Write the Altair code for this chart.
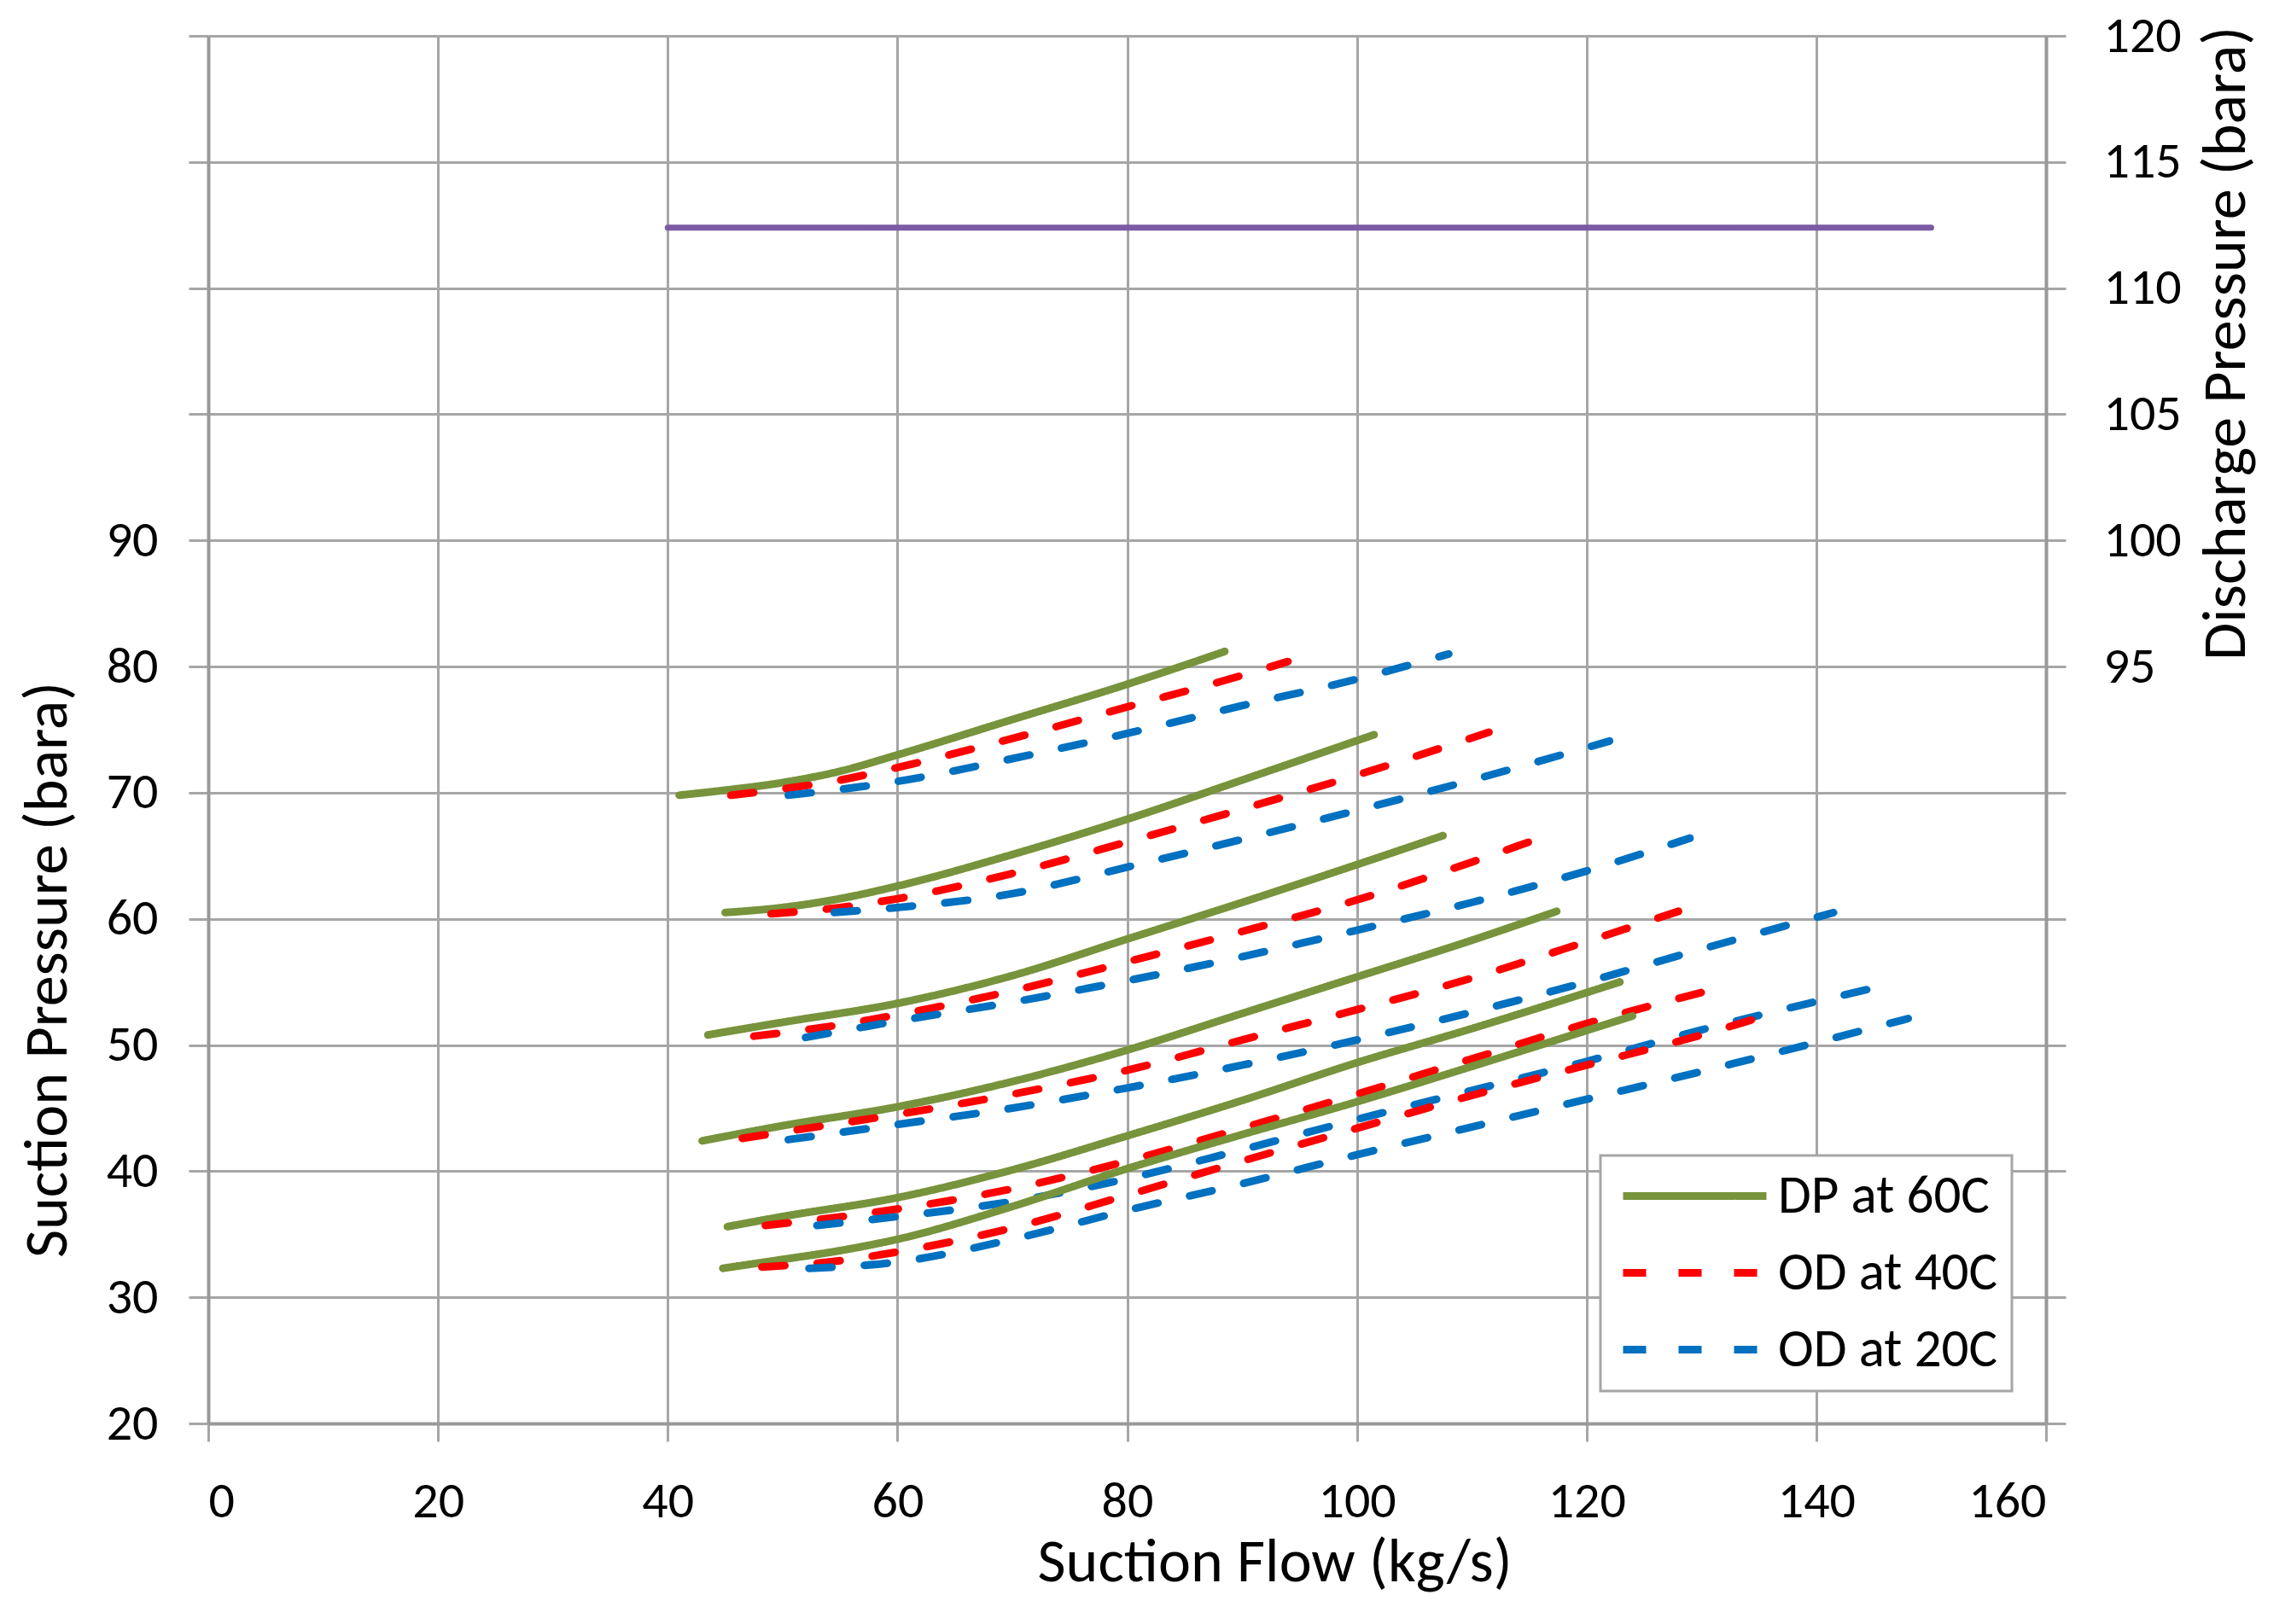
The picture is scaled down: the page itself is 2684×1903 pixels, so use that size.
import altair as alt
import pandas as pd

# ---- data ----
series_names = ["DP at 60C", "OD at 40C", "OD at 20C"]
series_colors = ["#77933C", "#FF0000", "#0070C0"]

dp60_1_x = [41, 45, 50, 55, 60, 70, 80, 88.5]
dp60_1_y = [69.8, 70.2, 70.8, 71.7, 73.0, 75.8, 78.6, 81.2]
od40_1_x = [45.5, 50, 55, 60, 70, 80, 90, 94]
od40_1_y = [69.8, 70.3, 71.0, 72.0, 74.3, 76.8, 79.3, 80.4]
od20_1_x = [50.5, 60, 70, 80, 90, 100, 108]
od20_1_y = [69.8, 70.9, 72.7, 74.7, 76.9, 79.0, 81.0]

dp60_2_x = [45, 50, 55, 60, 70, 80, 90, 101.5]
dp60_2_y = [60.5, 60.9, 61.6, 62.6, 65.1, 67.9, 71.0, 74.6]
od40_2_x = [49, 55, 60, 70, 80, 90, 100, 111.5]
od40_2_y = [60.4, 60.9, 61.6, 63.6, 66.1, 68.7, 71.4, 74.8]
od20_2_x = [54.5, 60, 70, 80, 90, 100, 110, 122]
od20_2_y = [60.5, 60.9, 62.0, 64.1, 66.3, 68.6, 71.0, 74.1]

dp60_3_x = [43.5, 50, 60, 70, 80, 90, 100, 107.5]
dp60_3_y = [50.8, 51.8, 53.3, 55.5, 58.4, 61.3, 64.3, 66.6]
od40_3_x = [47.5, 55, 60, 70, 80, 90, 100, 110, 115]
od40_3_y = [50.7, 51.6, 52.4, 54.3, 56.6, 59.0, 61.5, 64.5, 66.1]
od20_3_x = [52, 60, 70, 80, 90, 100, 110, 120, 129]
od20_3_y = [50.6, 51.9, 53.4, 55.1, 57.0, 59.1, 61.3, 63.8, 66.4]

dp60_4_x = [43, 50, 60, 70, 80, 90, 100, 110, 117.4]
dp60_4_y = [42.4, 43.6, 45.1, 47.1, 49.6, 52.5, 55.4, 58.3, 60.6]
od40_4_x = [46.5, 50, 60, 70, 80, 90, 100, 110, 120, 128]
od40_4_y = [42.6, 43.1, 44.5, 46.1, 48.0, 50.4, 52.8, 55.3, 58.2, 60.6]
od20_4_x = [50.5, 60, 70, 80, 90, 100, 110, 120, 130, 141.5]
od20_4_y = [42.5, 43.7, 45.0, 46.6, 48.4, 50.4, 52.6, 55.0, 57.6, 60.5]

dp60_5_x = [45.2, 50, 60, 70, 80, 90, 100, 110, 122.9]
dp60_5_y = [35.6, 36.4, 37.9, 40.1, 42.8, 45.6, 48.6, 51.3, 55.0]
od40_5_x = [48.5, 60, 70, 80, 90, 100, 110, 120, 131]
od40_5_y = [35.7, 37.0, 38.6, 40.8, 43.4, 46.1, 48.9, 51.7, 54.4]
od20_5_x = [53, 60, 70, 80, 90, 100, 110, 120, 130, 145.4]
od20_5_y = [35.7, 36.4, 37.6, 39.4, 41.7, 44.1, 46.4, 48.7, 51.2, 54.6]

dp60_6_x = [44.8, 50, 55, 60, 70, 80, 90, 100, 110, 124]
dp60_6_y = [32.3, 33.0, 33.7, 34.6, 37.2, 40.2, 42.9, 45.5, 48.3, 52.3]
od40_6_x = [48.2, 55, 60, 70, 80, 90, 100, 110, 120, 130, 134.4]
od40_6_y = [32.4, 32.9, 33.6, 35.5, 38.1, 40.8, 43.4, 46.0, 48.4, 50.8, 52.0]
od20_6_x = [52.3, 60, 70, 80, 90, 100, 110, 120, 130, 140, 148]
od20_6_y = [32.3, 32.8, 34.6, 36.9, 39.0, 41.3, 43.5, 45.7, 47.9, 50.2, 52.1]

discharge_x = [40, 150]
discharge_y = [112.4, 112.4]

x_ticks = [0, 20, 40, 60, 80, 100, 120, 140, 160]
left_ticks = [20, 30, 40, 50, 60, 70, 80, 90, 100, 110, 120, 130]
right_ticks = [65, 70, 75, 80, 85, 90, 95, 100, 105, 110, 115, 120]

# ---- build tables ----
curves = [
    ("DP at 60C", 1, dp60_1_x, dp60_1_y), ("OD at 40C", 1, od40_1_x, od40_1_y), ("OD at 20C", 1, od20_1_x, od20_1_y),
    ("DP at 60C", 2, dp60_2_x, dp60_2_y), ("OD at 40C", 2, od40_2_x, od40_2_y), ("OD at 20C", 2, od20_2_x, od20_2_y),
    ("DP at 60C", 3, dp60_3_x, dp60_3_y), ("OD at 40C", 3, od40_3_x, od40_3_y), ("OD at 20C", 3, od20_3_x, od20_3_y),
    ("DP at 60C", 4, dp60_4_x, dp60_4_y), ("OD at 40C", 4, od40_4_x, od40_4_y), ("OD at 20C", 4, od20_4_x, od20_4_y),
    ("DP at 60C", 5, dp60_5_x, dp60_5_y), ("OD at 40C", 5, od40_5_x, od40_5_y), ("OD at 20C", 5, od20_5_x, od20_5_y),
    ("DP at 60C", 6, dp60_6_x, dp60_6_y), ("OD at 40C", 6, od40_6_x, od40_6_y), ("OD at 20C", 6, od20_6_x, od20_6_y),
]
rows = []
for name, grp, xs, ys in curves:
    for xv, yv in zip(xs, ys):
        rows.append({"x": xv, "y": yv, "series": name, "curve": f"{name}-{grp}"})
df = pd.DataFrame(rows)
df_dis = pd.DataFrame({"x": discharge_x, "yd": discharge_y})

FONT = "Carlito, 'Liberation Sans Narrow', 'Open Sans', sans-serif"

legend = alt.Legend(
    title=None, orient="none", legendX=1631, legendY=1312,
    padding=16, fillColor="white", strokeColor="#a6a6a6",
    symbolType="M-4,0H4", symbolSize=42 * 42, symbolStrokeWidth=9,
    symbolOffset=63, labelOffset=66,
    labelFont=FONT, labelFontSize=63, labelColor="#000000",
    rowPadding=26, labelLimit=600,
)

lines = alt.Chart(df).mark_line(strokeWidth=9, strokeCap="round", interpolate="monotone").encode(
    x=alt.X("x:Q", scale=alt.Scale(domain=[0, 160], nice=False, zero=False),
            axis=alt.Axis(values=x_ticks, title="Suction Flow (kg/s)", tickSize=21,
                          labelBaseline="alphabetic", labelPadding=88,
                          titleX=1249, titleY=184, titleAlign="center", titleBaseline="alphabetic")),
    y=alt.Y("y:Q", scale=alt.Scale(domain=[20, 130], nice=False, zero=False),
            axis=alt.Axis(values=left_ticks, labelExpr="datum.value <= 90 ? datum.label : ''",
                          title="Suction Pressure (bara)", tickSize=23, labelPadding=36,
                          titleAngle=270, titleX=-167, titleY=1094, titleAlign="center",
                          titleBaseline="alphabetic")),
    color=alt.Color("series:N", scale=alt.Scale(domain=series_names, range=series_colors), legend=legend),
    strokeDash=alt.StrokeDash("series:N", scale=alt.Scale(domain=series_names, range=[[1, 0], [27, 38], [27, 38]]),
                              legend=legend),
    detail="curve:N",
)

discharge = alt.Chart(df_dis).mark_line(strokeWidth=7, color="#7B5BA4", strokeCap="round").encode(
    x=alt.X("x:Q", scale=alt.Scale(domain=[0, 160], nice=False, zero=False)),
    y=alt.Y("yd:Q", scale=alt.Scale(domain=[65, 120], nice=False, zero=False),
            axis=alt.Axis(orient="right", values=right_ticks, grid=False,
                          labelExpr="datum.value >= 95 ? datum.label : ''",
                          title="Discharge Pressure (bara)", tickSize=23, labelPadding=44,
                          titleAngle=270, titleX=232, titleY=360, titleAlign="center",
                          titleBaseline="alphabetic")),
)

chart = alt.layer(lines, discharge).resolve_scale(y="independent").properties(
    width=2153, height=1626,
    padding={"left": 236, "top": 34, "right": 260, "bottom": 220},
    autosize=alt.AutoSizeParams(type="none"),
).configure_view(stroke=None).configure_axis(
    grid=True, gridColor="#a6a6a6", gridWidth=3,
    domainColor="#999999", domainWidth=4,
    tickColor="#a6a6a6", tickWidth=3,
    labelFont=FONT, labelFontSize=60, labelColor="#000000",
    titleFont=FONT, titleFontSize=72, titleFontWeight="normal", titleColor="#000000",
).configure_legend(strokeWidth=3)

chart.save("out.html", embed_options={"renderer": "svg", "actions": False})
